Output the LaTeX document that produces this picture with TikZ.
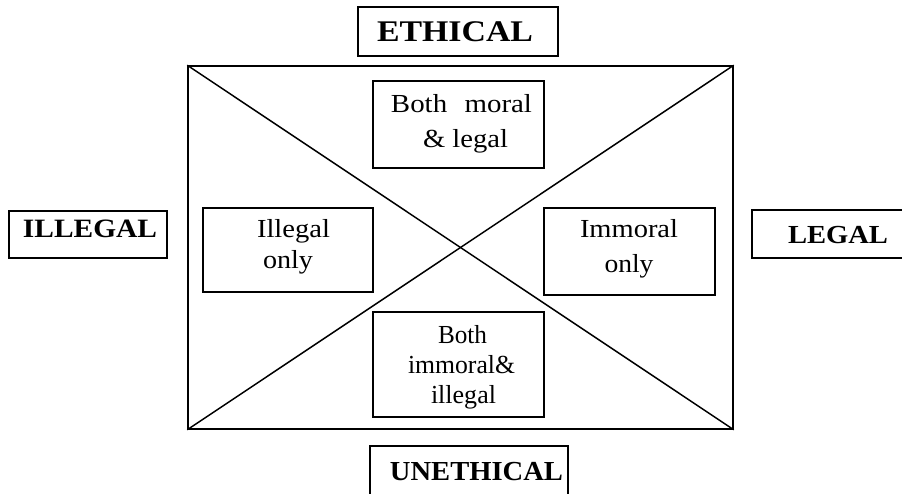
\documentclass[tikz,border=0pt]{standalone}
\usepackage{fontspec}
\setmainfont{Liberation Serif}
\usepackage{graphicx}
\newcommand{\fitw}[2]{\resizebox{#1pt}{\height}{#2}}
\begin{document}
\begin{tikzpicture}[x=1pt,y=-1pt,
  frame/.style={draw, line width=1.5pt, inner sep=0pt},
  cell/.style={draw, fill=white, line width=1.5pt, inner sep=0pt},
  txt/.style={inner sep=0pt, anchor=base, font=\fontsize{26}{31}\selectfont},
  head/.style={inner sep=0pt, anchor=base}]
\useasboundingbox (0,0) rectangle (902,493);

% main frame with diagonals
\node[frame, minimum width=545pt, minimum height=363pt] (M) at (460.5,247.5) {};
\draw[line width=1.5pt] (M.north west) -- (M.south east);
\draw[line width=1.5pt] (M.south west) -- (M.north east);

% heading boxes
\node[cell, minimum width=200pt, minimum height=49pt] (ethB) at (458,31.5) {};
\node[cell, minimum width=198pt, minimum height=60pt] (unB) at (469,476) {};
\node[cell, minimum width=158pt, minimum height=47pt] (illB) at (88,234.5) {};
\node[cell, minimum width=153pt, minimum height=48pt] (legB) at (828.5,234) {};

\node[head, font=\fontsize{30}{36}\selectfont\bfseries] (eth) at (455,41) {\fitw{156}{ETHICAL}};
\node[head, font=\fontsize{27.5}{33}\selectfont\bfseries] (un) at (476.5,480) {\fitw{173}{UNETHICAL}};
\node[head, font=\fontsize{26.5}{32}\selectfont\bfseries] (ill) at (90,237) {\fitw{134}{ILLEGAL}};
\node[head, font=\fontsize{26}{31}\selectfont\bfseries] (leg) at (838,243.3) {\fitw{100}{LEGAL}};

% inner cells
\node[cell, minimum width=171pt, minimum height=87pt] (top) at (458.5,124.5) {};
\node[cell, minimum width=170pt, minimum height=84pt] (left) at (288,250) {};
\node[cell, minimum width=171pt, minimum height=87pt] (right) at (629.5,251.5) {};
\node[cell, minimum width=171pt, minimum height=105pt] (bot) at (458.5,364.5) {};

% cell texts
\node[txt] (t1) at (461.5,112) {\fitw{141}{Both\hspace{0.6em}moral}};
\node[txt] (t2) at (465.5,147) {\fitw{85}{\& legal}};
\node[txt] (l1) at (293.5,237) {\fitw{73}{Illegal}};
\node[txt] (l2) at (288,268) {\fitw{50}{only}};
\node[txt] (r1) at (629,237) {\fitw{98}{Immoral}};
\node[txt] (r2) at (629,272) {\fitw{49}{only}};
\node[txt] (b1) at (462.5,343) {\fitw{49}{Both}};
\node[txt] (b2) at (461.5,373) {\fitw{107}{immoral\&}};
\node[txt] (b3) at (463.5,403) {\fitw{65}{illegal}};
\end{tikzpicture}
\end{document}
